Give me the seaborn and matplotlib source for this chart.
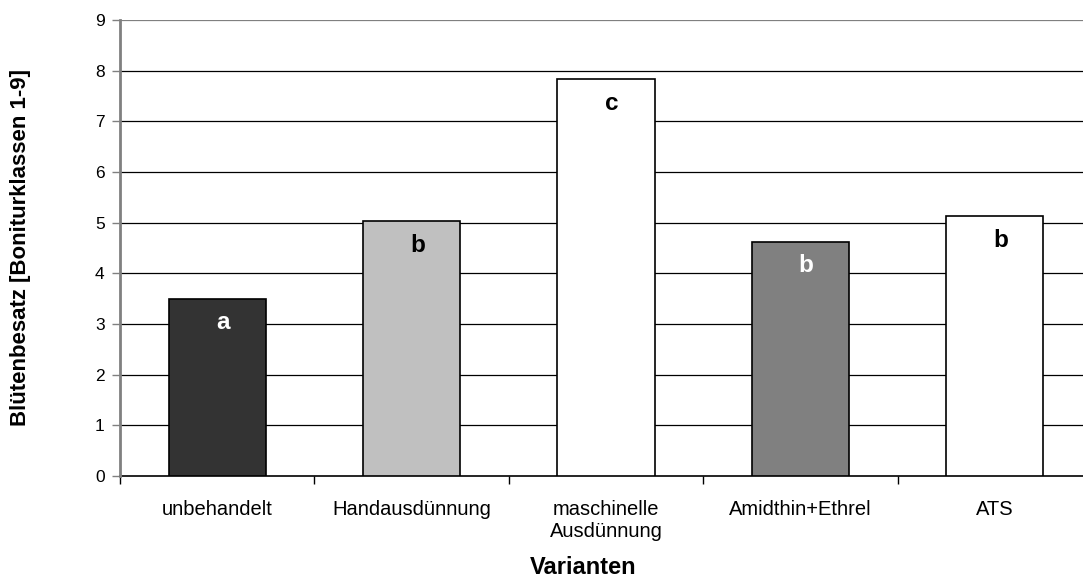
import matplotlib
matplotlib.use("Agg")
import matplotlib.pyplot as plt
import seaborn as sns
import pandas as pd

# Daten
varianten = ["unbehandelt", "Handausdünnung", "maschinelle\nAusdünnung",
             "Amidthin+Ethrel", "ATS"]
werte = [3.5, 5.03, 7.83, 4.62, 5.13]
buchstaben = ["a", "b", "c", "b", "b"]
farben = ["#333333", "#C0C0C0", "#FFFFFF", "#808080", "#FFFFFF"]
textfarben = ["white", "black", "black", "white", "black"]
y_ticks = list(range(0, 10))

sns.set_theme(style="white")
plt.rcParams['font.family'] = ['Liberation Sans', 'DejaVu Sans']
plt.rcParams['text.color'] = 'black'
plt.rcParams['xtick.color'] = 'black'
plt.rcParams['ytick.color'] = 'black'

df = pd.DataFrame({"Variante": varianten, "Wert": werte})

fig = plt.figure(figsize=(10.83, 5.83), dpi=100)
# Plotbereich läuft rechts über den Bildrand hinaus (wie im Original abgeschnitten)
ax = fig.add_axes([120 / 1083, 1 - 476 / 583, 972 / 1083, 456 / 583])

sns.barplot(data=df, x="Variante", y="Wert", hue="Variante", palette=farben,
            width=0.5, edgecolor="black", linewidth=1.2, legend=False,
            saturation=1, ax=ax, zorder=3)

# Gitterlinien
for t in y_ticks[1:]:
    ax.axhline(t, color="#808080" if t == 9 else "black", linewidth=0.9, zorder=1)

ax.set_ylim(0, 9)
ax.set_xlim(-0.5, 4.5)
ax.set_yticks(y_ticks)
ax.set_yticklabels([str(t) for t in y_ticks], fontsize=12.5)
ax.tick_params(axis="y", direction="out", length=6, width=1, color="#808080",
               pad=5, left=True)

# Kategorienbeschriftung mittig, Teilstriche zwischen den Kategorien
ax.set_xticks(range(len(varianten)))
ax.set_xticklabels(varianten, fontsize=14.5, linespacing=1.2)
ax.tick_params(axis="x", length=0, pad=17)
ax.set_xticks([i + 0.5 for i in range(-1, len(varianten))], minor=True)
ax.tick_params(axis="x", which="minor", direction="out", length=6, width=1,
               color="black", bottom=True)

for side in ["top", "right"]:
    ax.spines[side].set_visible(False)
ax.spines["left"].set_color("#808080")
ax.spines["left"].set_linewidth(2)
ax.spines["bottom"].set_color("black")
ax.spines["bottom"].set_linewidth(1.2)
ax.spines["left"].set_zorder(4)

# Signifikanzbuchstaben
for i, (w, b, c) in enumerate(zip(werte, buchstaben, textfarben)):
    ax.annotate(b, xy=(i + 0.03, w), xytext=(0, -9), textcoords="offset points",
                ha="center", va="top", fontsize=17.5, fontweight="bold", color=c,
                zorder=5)

ax.set_xlabel("")
ax.set_ylabel("")
fig.text(21 / 1083, 1 - 248 / 583, "Blütenbesatz [Boniturklassen 1-9]",
         rotation=90, ha="center", va="center", fontsize=16, fontweight="bold")
fig.text(583 / 1083, 1 - 568 / 583, "Varianten", ha="center", va="center",
         fontsize=17, fontweight="bold")

fig.savefig("out.png", dpi=100, facecolor="white")
